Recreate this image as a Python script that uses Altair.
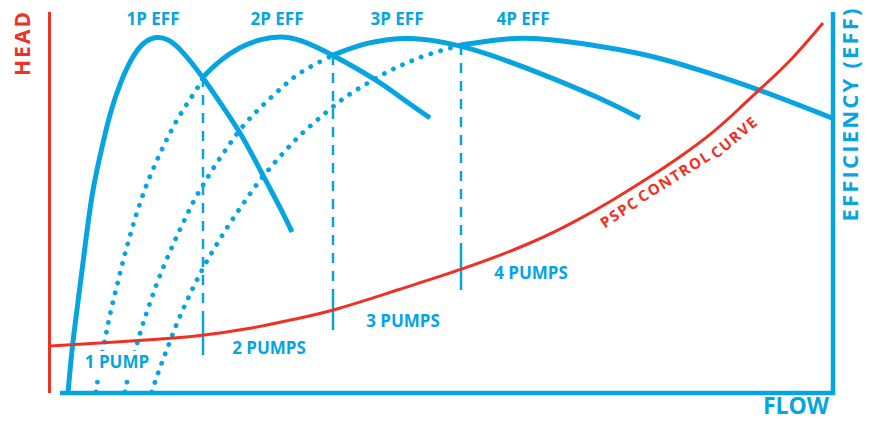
import altair as alt
import pandas as pd

BLUE = "#07a4e2"
RED = "#ee3124"

# ---- efficiency curves (solid parts), flow vs picture height units ----
eff1_flow = [68, 72, 80, 87, 93, 102, 110, 120, 132, 143, 157, 168, 180, 203, 223, 240, 255, 267, 280, 292]
eff1_val = [393, 347, 287, 230, 187, 147, 113, 83, 57, 42, 36, 39, 48, 77, 107, 132, 160, 183, 207, 232]
eff2_flow = [203, 220, 240, 260, 280, 300, 333, 377, 400, 430]
eff2_val = [77, 60, 47, 39, 36, 39, 55, 80, 97, 118]
eff3_flow = [333, 367, 410, 460, 500, 550, 600, 640]
eff3_val = [55, 42, 36, 45, 58, 77, 98, 118]
eff4_flow = [461, 500, 533, 600, 650, 700, 758, 832]
eff4_val = [45, 39, 37, 46, 55, 70, 89, 118]

# ---- dotted rising parts ----
dot2_flow = [96, 97.3, 103, 107, 111.3, 116.7, 121.7, 127.3, 133.3, 140, 147, 155.3, 164.3, 174, 185.3, 197.7, 203]
dot2_val = [392, 382, 349, 329, 308, 287, 266, 245, 224, 203, 183, 164, 144, 125, 106, 88, 78]
dot3_flow = [125, 126.7, 137.7, 144, 151, 158, 166.3, 175, 184, 194, 204.3, 215.7, 227.7, 240, 254.7, 269.3, 285.7, 300, 321.7, 333]
dot3_val = [392, 382, 341, 320, 300, 280, 260, 240, 221, 200, 183, 164, 147, 129, 113, 99, 84, 72, 61, 55]
dot4_flow = [151.7, 158.3, 166, 173.3, 181.7, 191, 200.3, 210.3, 221.7, 233.3, 245.7, 258.3, 271.7, 285.7, 300, 316, 332.3, 349.3, 368, 386.7, 406, 426, 446.7, 461]
dot4_val = [392, 372, 352, 332, 312, 292, 273, 255, 236, 218, 200, 182, 166, 150, 135, 121, 107, 94, 83, 72, 63, 55, 49, 45]

# ---- PSPC control curve ----
pspc_flow = [50, 100, 150, 200, 250, 300, 333, 400, 461, 533, 580, 613, 647, 680, 713, 740, 760, 790, 823]
pspc_val = [346, 343, 340, 336, 329, 318, 311, 289, 270, 243, 219, 200, 179, 157, 133, 108, 89, 62, 23]

# ---- staging lines ----
stage_flow = [203, 333, 461]
stage_top = [77, 55, 45]
stage_head = [336, 311, 271]
tick_half = 19

# ---- axes frame ----
head_axis = {"flow": [49.5], "val": [12], "val2": [393]}
flow_axis = {"flow": [60], "flow2": [835], "val": [393]}
eff_axis = {"flow": [833], "val": [12], "val2": [395]}

# ---- label box behind "1 PUMP" ----
box = {"flow": [80], "flow2": [150], "val": [351], "val2": [380]}

# ---- texts ----
H = "\u200a"
labels = [
    (H.join("HEAD"), 24, 44, 270, 21, RED),
    (H.join("EFFICIENCY (EFF)"), 851, 115, 270, 22, BLUE),
    ("FLOW", 796, 407, 0, 23, BLUE),
    ("1P EFF", 153, 20, 0, 17, BLUE),
    ("2P EFF", 277, 20, 0, 17, BLUE),
    ("3P EFF", 397, 20, 0, 17, BLUE),
    ("4P EFF", 523, 20, 0, 17, BLUE),
    ("1 PUMP", 117, 363, 0, 17, BLUE),
    ("2 PUMPS", 269, 349, 0, 17, BLUE),
    ("3 PUMPS", 403, 322, 0, 17, BLUE),
    ("4 PUMPS", 531, 274, 0, 17, BLUE),
    (H.join("PSPC"), 619, 213, 326, 15, RED),
    (H.join("CONTROL"), 674, 177, 328, 15, RED),
    (H.join("CURVE"), 734, 138, 320, 15, RED),
]


def frame(name, xs, ys):
    return pd.DataFrame({"flow": xs, "val": ys, "curve": name})


solid_df = pd.concat([
    frame("1P", eff1_flow, eff1_val),
    frame("2P", eff2_flow, eff2_val),
    frame("3P", eff3_flow, eff3_val),
    frame("4P", eff4_flow, eff4_val),
])
dot_df = pd.concat([
    frame("2P", dot2_flow, dot2_val),
    frame("3P", dot3_flow, dot3_val),
    frame("4P", dot4_flow, dot4_val),
])
pspc_df = frame("pspc", pspc_flow, pspc_val)
dash_df = pd.DataFrame({
    "flow": stage_flow,
    "val": stage_top,
    "val2": [h - tick_half for h in stage_head],
})
tick_df = pd.DataFrame({
    "flow": stage_flow,
    "val": [h - tick_half for h in stage_head],
    "val2": [h + tick_half for h in stage_head],
})
text_df = pd.DataFrame(labels, columns=["text", "flow", "val", "angle", "size", "color"])

xsc = alt.Scale(domain=[8, 867], nice=False, zero=False)
ysc = alt.Scale(domain=[8, 420], reverse=True, nice=False, zero=False)
X = alt.X("flow:Q", scale=xsc, axis=None)
Y = alt.Y("val:Q", scale=ysc, axis=None)

head_rule = alt.Chart(pd.DataFrame(head_axis)).mark_rule(color=RED, strokeWidth=3).encode(
    x=X, y=Y, y2="val2:Q")
flow_rule = alt.Chart(pd.DataFrame(flow_axis)).mark_rule(color=BLUE, strokeWidth=4.5).encode(
    x=X, x2="flow2:Q", y=Y)
eff_rule = alt.Chart(pd.DataFrame(eff_axis)).mark_rule(color=BLUE, strokeWidth=4.5).encode(
    x=X, y=Y, y2="val2:Q")

dotted = alt.Chart(dot_df).mark_line(
    color=BLUE, strokeWidth=4.8, strokeDash=[0.1, 10], strokeCap="round", interpolate="basis"
).encode(x=X, y=Y, detail="curve:N")

solid = alt.Chart(solid_df).mark_line(
    color=BLUE, strokeWidth=5, interpolate="basis"
).encode(x=X, y=Y, detail="curve:N")

dashes = alt.Chart(dash_df).mark_rule(color=BLUE, strokeWidth=2.5, strokeDash=[10, 8]).encode(
    x=X, y=Y, y2="val2:Q")
ticks = alt.Chart(tick_df).mark_rule(color=BLUE, strokeWidth=2.5).encode(
    x=X, y=Y, y2="val2:Q")

pspc = alt.Chart(pspc_df).mark_line(color=RED, strokeWidth=3, interpolate="basis").encode(
    x=X, y=Y)

whitebox = alt.Chart(pd.DataFrame(box)).mark_rect(color="white").encode(
    x=X, x2="flow2:Q", y=Y, y2="val2:Q")

texts = alt.Chart(text_df).mark_text(
    font="Open Sans", fontWeight="bold", align="center", baseline="middle"
).encode(
    x=X, y=Y, text="text:N",
    angle=alt.Angle("angle:Q", scale=None),
    size=alt.Size("size:Q", scale=None),
    color=alt.Color("color:N", scale=None),
)

chart = alt.layer(
    dotted, dashes, ticks, solid, pspc, whitebox, head_rule, flow_rule, eff_rule, texts
).properties(
    width=859, height=412, autosize=alt.AutoSizeParams(type="none"), padding=0
).configure_view(stroke=None)

chart.save("out.html", embed_options={"renderer": "svg", "actions": False})
